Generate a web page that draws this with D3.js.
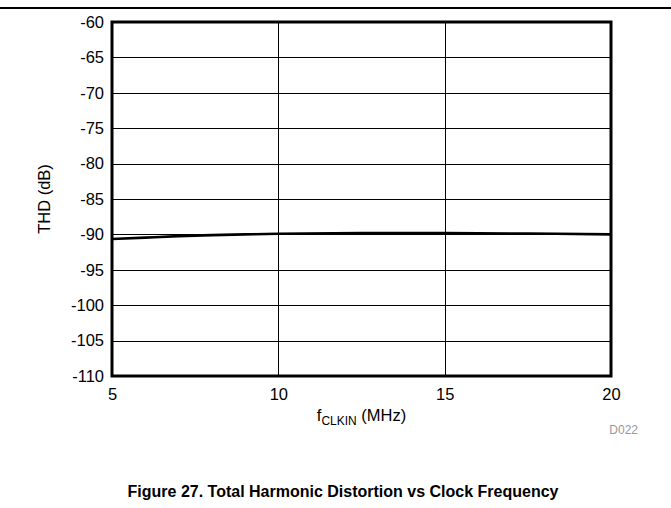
<!DOCTYPE html>
<html><head><meta charset="utf-8">
<script src="https://cdn.jsdelivr.net/npm/d3@7"></script>
<style>body{margin:0;background:#fff}svg{display:block}text{font-family:"Liberation Sans",Arial,sans-serif}</style>
</head><body>
<script>
const freqMHz = [5, 6, 7, 8, 9, 10, 12.5, 15, 17.5, 20];
const thdDb = [-90.65, -90.45, -90.25, -90.1, -90.0, -89.9, -89.82, -89.82, -89.88, -90.0];
const xTicks = [5, 10, 15, 20];
const yTicks = [-60, -65, -70, -75, -80, -85, -90, -95, -100, -105, -110];

const W = 671, H = 508;
const m = {l: 112, r: 611, t: 22, b: 376};
const svg = d3.select("body").append("svg").attr("width", W).attr("height", H);

// top rule
svg.append("line").attr("x1", 0).attr("x2", W).attr("y1", 8).attr("y2", 8)
  .attr("stroke", "#000").attr("stroke-width", 2);

const x = d3.scaleLinear().domain([5, 20]).range([m.l, m.r]);
const y = d3.scaleLinear().domain([-110, -60]).range([m.b, m.t]);

// grid
svg.append("g").selectAll("line").data(yTicks).join("line")
  .attr("x1", m.l).attr("x2", m.r).attr("y1", d => Math.round(y(d)) + 0.5).attr("y2", d => Math.round(y(d)) + 0.5)
  .attr("stroke", "#000").attr("stroke-width", 1);
svg.append("g").selectAll("line").data(xTicks).join("line")
  .attr("y1", m.t).attr("y2", m.b).attr("x1", d => Math.round(x(d)) + 0.5).attr("x2", d => Math.round(x(d)) + 0.5)
  .attr("stroke", "#000").attr("stroke-width", 1);

const fmt = d => String(d);
const FS = 16.5;

// y axis labels
const yAxis = d3.axisLeft(y).tickValues(yTicks).tickSize(0).tickPadding(8).tickFormat(fmt);
const gy = svg.append("g").attr("transform", `translate(${m.l},0)`).call(yAxis);
gy.select(".domain").remove();
gy.selectAll("text").attr("font-size", FS).attr("fill", "#000").style("font-family", "Liberation Sans, Arial, sans-serif");

const xAxis = d3.axisBottom(x).tickValues(xTicks).tickSize(0).tickPadding(12).tickFormat(fmt);
const gx = svg.append("g").attr("transform", `translate(0,${m.b})`).call(xAxis);
gx.select(".domain").remove();
gx.selectAll("text").attr("font-size", FS).attr("fill", "#000").style("font-family", "Liberation Sans, Arial, sans-serif");

// data line
const line = d3.line().x(d => x(d[0])).y(d => y(d[1])).curve(d3.curveMonotoneX);
svg.append("path").datum(freqMHz.map((f, i) => [f, thdDb[i]]))
  .attr("d", line).attr("fill", "none").attr("stroke", "#000").attr("stroke-width", 2.6);

// frame
svg.append("rect").attr("x", m.l).attr("y", m.t).attr("width", m.r - m.l).attr("height", m.b - m.t)
  .attr("fill", "none").attr("stroke", "#000").attr("stroke-width", 3);

// axis titles
svg.append("text").attr("transform", `translate(50,${(m.t + m.b) / 2}) rotate(-90)`)
  .attr("text-anchor", "middle").attr("font-size", FS).text("THD (dB)");
const xt = svg.append("text").attr("x", (m.l + m.r) / 2).attr("y", 421).attr("text-anchor", "middle").attr("font-size", FS);
xt.append("tspan").text("f");
xt.append("tspan").attr("font-size", 12).attr("dy", 4).text("CLKIN");
xt.append("tspan").attr("dy", -4).text(" (MHz)");

svg.append("text").attr("x", 638).attr("y", 434).attr("text-anchor", "end").attr("font-size", 12)
  .attr("fill", "#999").text("D022");

svg.append("text").attr("x", 343).attr("y", 497).attr("text-anchor", "middle").attr("font-size", 16)
  .attr("font-weight", "bold").text("Figure 27. Total Harmonic Distortion vs Clock Frequency");
</script>
</body></html>
